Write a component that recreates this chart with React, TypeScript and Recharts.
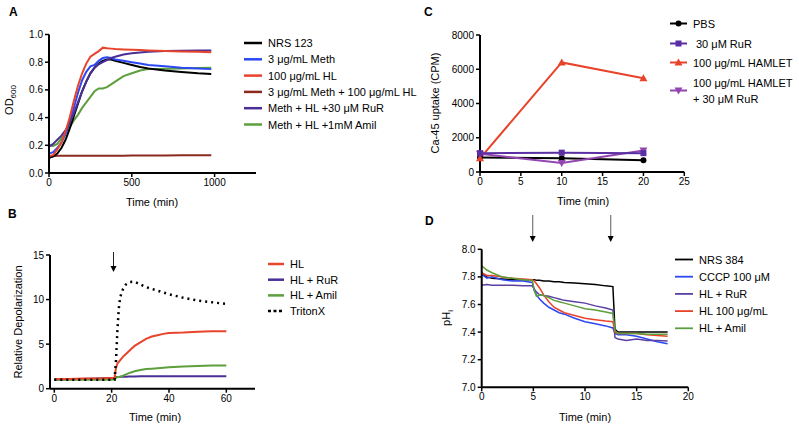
import React from 'react';
import { LineChart, Line, XAxis, YAxis } from 'recharts';

const FONT = '"Liberation Sans", Arial, Helvetica, sans-serif';

// ---------- Panel A : OD600 growth curves ----------
const aTime = [0, 25, 50, 75, 100, 125, 150, 175, 200, 225, 250, 275, 300, 325, 350, 375, 400, 450, 500, 550, 600, 700, 800, 900, 980];
const aNRS123 = [0.11, 0.12, 0.14, 0.18, 0.24, 0.32, 0.41, 0.5, 0.59, 0.66, 0.72, 0.76, 0.79, 0.81, 0.82, 0.82, 0.81, 0.795, 0.78, 0.765, 0.755, 0.74, 0.73, 0.72, 0.715];
const aMeth = [0.14, 0.15, 0.18, 0.22, 0.28, 0.37, 0.47, 0.58, 0.67, 0.73, 0.77, 0.78, 0.81, 0.83, 0.835, 0.83, 0.82, 0.81, 0.8, 0.79, 0.78, 0.77, 0.76, 0.755, 0.75];
const aHL = [0.12, 0.13, 0.17, 0.22, 0.3, 0.4, 0.52, 0.63, 0.72, 0.79, 0.84, 0.86, 0.88, 0.905, 0.9, 0.898, 0.895, 0.892, 0.89, 0.888, 0.885, 0.88, 0.877, 0.875, 0.872];
const aMethHL = [0.11, 0.12, 0.125, 0.125, 0.125, 0.125, 0.125, 0.125, 0.125, 0.125, 0.125, 0.125, 0.125, 0.125, 0.125, 0.125, 0.125, 0.125, 0.126, 0.126, 0.127, 0.127, 0.128, 0.128, 0.128];
const aRuR = [0.19, 0.21, 0.24, 0.27, 0.31, 0.36, 0.43, 0.51, 0.59, 0.66, 0.72, 0.76, 0.785, 0.8, 0.815, 0.83, 0.84, 0.855, 0.865, 0.87, 0.875, 0.88, 0.882, 0.884, 0.885];
const aAmil = [0.2, 0.195, 0.21, 0.25, 0.29, 0.33, 0.38, 0.42, 0.47, 0.51, 0.55, 0.59, 0.61, 0.61, 0.62, 0.64, 0.66, 0.7, 0.72, 0.74, 0.75, 0.752, 0.755, 0.758, 0.76];
const aXTicks = [0, 500, 1000];
const aYTicks = [0, 0.2, 0.4, 0.6, 0.8, 1.0];

// ---------- Panel B : relative depolarization ----------
const bTime = [0, 5, 10, 15, 20, 21, 21.5, 22, 22.5, 23, 24, 25, 26, 27, 28, 30, 32, 34, 36, 38, 40, 45, 50, 55, 60];
const bHL = [1.1, 1.1, 1.15, 1.15, 1.2, 1.2, 2.3, 2.8, 3.0, 3.2, 3.6, 3.9, 4.2, 4.5, 4.8, 5.2, 5.6, 5.85, 6.0, 6.15, 6.25, 6.3, 6.4, 6.45, 6.45];
const bRuR = [1.0, 1.05, 1.1, 1.15, 1.2, 1.2, 1.3, 1.3, 1.3, 1.35, 1.35, 1.35, 1.38, 1.38, 1.38, 1.4, 1.4, 1.4, 1.4, 1.4, 1.4, 1.4, 1.4, 1.4, 1.4];
const bAmil = [1.0, 1.0, 1.0, 1.0, 1.0, 1.05, 1.2, 1.3, 1.3, 1.35, 1.45, 1.6, 1.75, 1.85, 1.95, 2.1, 2.2, 2.25, 2.3, 2.35, 2.4, 2.5, 2.55, 2.6, 2.6];
const bTriton = [1.0, 1.0, 1.0, 1.0, 1.0, 1.0, 3.0, 6.5, 9.0, 10.3, 11.2, 11.7, 11.9, 12.0, 12.0, 11.7, 11.4, 11.2, 11.0, 10.8, 10.6, 10.2, 9.9, 9.7, 9.5];
const bXTicks = [0, 20, 40, 60];
const bYTicks = [0, 5, 10, 15];

// ---------- Panel C : Ca-45 uptake ----------
const cTime = [0, 10, 20];
const cPBS = [850, 800, 680];
const cRuR = [1100, 1130, 1100];
const cHAMLET = [800, 6400, 5480];
const cHAMLETRuR = [1070, 520, 1260];
const cXTicks = [0, 5, 10, 15, 20, 25];
const cYTicks = [0, 2000, 4000, 6000, 8000];

// ---------- Panel D : intracellular pH ----------
const dTime = [0, 0.5, 1, 2, 3, 4, 4.9, 5.1, 5.3, 5.6, 6, 6.5, 7, 7.5, 8, 9, 10, 11, 12, 12.7, 12.9, 13.2, 14, 15, 16, 17, 18];
const dNRS384 = [7.82, 7.8, 7.79, 7.785, 7.78, 7.78, 7.78, 7.78, 7.775, 7.775, 7.77, 7.77, 7.765, 7.765, 7.76, 7.755, 7.75, 7.745, 7.735, 7.73, 7.42, 7.4, 7.4, 7.4, 7.4, 7.4, 7.4];
const dCCCP = [7.82, 7.79, 7.8, 7.78, 7.77, 7.77, 7.76, 7.7, 7.67, 7.64, 7.61, 7.58, 7.56, 7.54, 7.53, 7.5, 7.475, 7.46, 7.445, 7.43, 7.39, 7.38, 7.38, 7.37, 7.35, 7.33, 7.315];
const dRuR = [7.74, 7.745, 7.74, 7.74, 7.74, 7.735, 7.735, 7.71, 7.69, 7.67, 7.665, 7.66, 7.65, 7.64, 7.63, 7.62, 7.61, 7.59, 7.575, 7.56, 7.36, 7.35, 7.34, 7.35, 7.34, 7.34, 7.335];
const dHL = [7.83, 7.81, 7.81, 7.8, 7.79, 7.785, 7.78, 7.77, 7.75, 7.72, 7.67, 7.62, 7.58, 7.56, 7.54, 7.52, 7.5, 7.49, 7.48, 7.475, 7.4, 7.39, 7.39, 7.39, 7.38, 7.375, 7.37];
const dAmil = [7.88, 7.85, 7.83, 7.8, 7.79, 7.78, 7.775, 7.7, 7.66, 7.67, 7.665, 7.65, 7.63, 7.62, 7.61, 7.59, 7.57, 7.56, 7.545, 7.535, 7.41, 7.39, 7.39, 7.39, 7.385, 7.385, 7.385];
const dXTicks = [0, 5, 10, 15, 20];
const dYTicks = [7.0, 7.2, 7.4, 7.6, 7.8, 8.0];

// ---------- colours ----------
const BLACK = '#000000';
const BLUE = '#2b48f2';
const RED = '#e8432b';
const DARKRED = '#8c2a1f';
const PURPLE = '#4b2f97';
const GREEN = '#5c9f3c';
const C_RUR = '#5a2fa3';
const C_HRUR = '#9246b0';
const D_RUR = '#5b40a3';

function rows(time: number[], series: Record<string, number[]>) {
  return time.map((t, i) => {
    const r: any = { t };
    for (const k of Object.keys(series)) r[k] = series[k][i];
    return r;
  });
}

const aData = rows(aTime, { nrs: aNRS123, meth: aMeth, hl: aHL, methhl: aMethHL, rur: aRuR, amil: aAmil });
const bData = rows(bTime, { hl: bHL, rur: bRuR, amil: bAmil, triton: bTriton });
const cData = rows(cTime, { pbs: cPBS, rur: cRuR, hamlet: cHAMLET, hrur: cHAMLETRuR });
const dData = rows(dTime, { nrs: dNRS384, cccp: dCCCP, rur: dRuR, hl: dHL, amil: dAmil });

const axisLine = { stroke: '#000', strokeWidth: 2 };
const tickLine = { stroke: '#000', strokeWidth: 1.5 };
const tickStyle = { fontSize: 10, fill: '#000', fontFamily: FONT };

function circleMark(cx: number, cy: number, color: string, key?: any) {
  return <circle key={key} cx={cx} cy={cy} r={3} fill={color} stroke="none" />;
}
function squareMark(cx: number, cy: number, color: string, key?: any) {
  return <rect key={key} x={cx - 3} y={cy - 3} width={6} height={6} fill={color} stroke="none" />;
}
function triUpMark(cx: number, cy: number, color: string, key?: any) {
  return <path key={key} d={`M${cx},${cy - 4}L${cx + 4},${cy + 3}L${cx - 4},${cy + 3}Z`} fill={color} stroke="none" />;
}
function triDownMark(cx: number, cy: number, color: string, key?: any) {
  return <path key={key} d={`M${cx},${cy + 4}L${cx + 4},${cy - 3}L${cx - 4},${cy - 3}Z`} fill={color} stroke="none" />;
}

const lineProps = { type: 'linear' as const, dot: false, isAnimationActive: false, activeDot: false };

function PanelA() {
  return (
    <div style={{ position: 'absolute', left: 0, top: 0 }}>
      <LineChart width={400} height={215} data={aData} margin={{ top: 34.5, right: 144, bottom: 22, left: 0 }}>
        <XAxis dataKey="t" type="number" domain={[0, 1250]} ticks={aXTicks} interval={0} height={20}
          axisLine={axisLine} tickLine={tickLine} tickSize={4} tick={tickStyle} />
        <YAxis type="number" domain={[0, 1]} ticks={aYTicks} interval={0} width={49}
          tickFormatter={(v: number) => v.toFixed(1)} axisLine={axisLine} tickLine={tickLine} tickSize={4} tick={tickStyle} />
        <Line {...lineProps} dataKey="methhl" stroke={DARKRED} strokeWidth={2} />
        <Line {...lineProps} dataKey="amil" stroke={GREEN} strokeWidth={2} />
        <Line {...lineProps} dataKey="nrs" stroke={BLACK} strokeWidth={2} />
        <Line {...lineProps} dataKey="meth" stroke={BLUE} strokeWidth={2} />
        <Line {...lineProps} dataKey="rur" stroke={PURPLE} strokeWidth={2} />
        <Line {...lineProps} dataKey="hl" stroke={RED} strokeWidth={2} />
      </LineChart>
    </div>
  );
}

function PanelB() {
  return (
    <div style={{ position: 'absolute', left: 0, top: 215 }}>
      <LineChart width={400} height={213} data={bData} margin={{ top: 40, right: 145, bottom: 19.3, left: 0 }}>
        <XAxis dataKey="t" type="number" domain={[-1.5, 70]} ticks={bXTicks} interval={0} height={20}
          axisLine={axisLine} tickLine={tickLine} tickSize={4} tick={tickStyle} />
        <YAxis type="number" domain={[0, 15]} ticks={bYTicks} interval={0} width={50}
          axisLine={axisLine} tickLine={tickLine} tickSize={4} tick={tickStyle} />
        <Line {...lineProps} dataKey="rur" stroke={PURPLE} strokeWidth={2} />
        <Line {...lineProps} dataKey="amil" stroke={GREEN} strokeWidth={2} />
        <Line {...lineProps} dataKey="hl" stroke={RED} strokeWidth={2} />
        <Line {...lineProps} dataKey="triton" stroke={BLACK} strokeWidth={2.5} strokeDasharray="2 4" />
      </LineChart>
    </div>
  );
}

function PanelC() {
  const mk = (fn: any, color: string) => (p: any) => fn(p.cx, p.cy, color, `m${p.index}`);
  return (
    <div style={{ position: 'absolute', left: 400, top: 0 }}>
      <LineChart width={399} height={215} data={cData} margin={{ top: 35, right: 114.7, bottom: 23, left: 0 }}>
        <XAxis dataKey="t" type="number" domain={[0, 25]} ticks={cXTicks} interval={0} height={20}
          axisLine={axisLine} tickLine={tickLine} tickSize={4} tick={tickStyle} />
        <YAxis type="number" domain={[0, 8000]} ticks={cYTicks} interval={0} width={80}
          axisLine={axisLine} tickLine={tickLine} tickSize={4} tick={tickStyle} />
        <Line {...lineProps} dataKey="pbs" stroke={BLACK} strokeWidth={2} dot={mk(circleMark, BLACK)} />
        <Line {...lineProps} dataKey="hamlet" stroke={RED} strokeWidth={2} dot={mk(triUpMark, RED)} />
        <Line {...lineProps} dataKey="hrur" stroke={C_HRUR} strokeWidth={2} dot={mk(triDownMark, C_HRUR)} />
        <Line {...lineProps} dataKey="rur" stroke={C_RUR} strokeWidth={2} dot={mk(squareMark, C_RUR)} />
      </LineChart>
    </div>
  );
}

function PanelD() {
  return (
    <div style={{ position: 'absolute', left: 400, top: 215 }}>
      <LineChart width={399} height={213} data={dData} margin={{ top: 34.3, right: 110.7, bottom: 20.7, left: 0 }}>
        <XAxis dataKey="t" type="number" domain={[0, 20]} ticks={dXTicks} interval={0} height={20}
          axisLine={axisLine} tickLine={tickLine} tickSize={4} tick={tickStyle} />
        <YAxis type="number" domain={[7, 8]} ticks={dYTicks} interval={0} width={81.7}
          tickFormatter={(v: number) => v.toFixed(1)} axisLine={axisLine} tickLine={tickLine} tickSize={4} tick={tickStyle} />
        <Line {...lineProps} dataKey="nrs" stroke={BLACK} strokeWidth={1.5} />
        <Line {...lineProps} dataKey="cccp" stroke={BLUE} strokeWidth={1.5} />
        <Line {...lineProps} dataKey="rur" stroke={D_RUR} strokeWidth={1.5} />
        <Line {...lineProps} dataKey="hl" stroke={RED} strokeWidth={1.5} />
        <Line {...lineProps} dataKey="amil" stroke={GREEN} strokeWidth={1.5} />
      </LineChart>
    </div>
  );
}

const legendA = [
  { label: 'NRS 123', color: BLACK },
  { label: '3 μg/mL Meth', color: BLUE },
  { label: '100 μg/mL HL', color: RED },
  { label: '3 μg/mL Meth + 100 μg/mL HL', color: DARKRED },
  { label: 'Meth + HL +30 μM RuR', color: PURPLE },
  { label: 'Meth + HL +1mM Amil', color: GREEN },
];
const legendB = [
  { label: 'HL', color: RED, dash: undefined as string | undefined },
  { label: 'HL + RuR', color: PURPLE, dash: undefined },
  { label: 'HL + Amil', color: GREEN, dash: undefined },
  { label: 'TritonX', color: BLACK, dash: '3 2.5' },
];
const legendD = [
  { label: 'NRS 384', color: BLACK },
  { label: 'CCCP 100 μM', color: BLUE },
  { label: 'HL + RuR', color: D_RUR },
  { label: 'HL 100 μg/mL', color: RED },
  { label: 'HL + Amil', color: GREEN },
];

function Overlay() {
  const t = { fontFamily: FONT, fill: '#000' } as any;
  return (
    <svg width={799} height={428} style={{ position: 'absolute', left: 0, top: 0, pointerEvents: 'none' }}>
      {/* panel letters */}
      <text x={9} y={16} {...t} fontSize={12} fontWeight="bold">A</text>
      <text x={8} y={218} {...t} fontSize={12} fontWeight="bold">B</text>
      <text x={424} y={16} {...t} fontSize={12} fontWeight="bold">C</text>
      <text x={425} y={225} {...t} fontSize={12} fontWeight="bold">D</text>

      {/* axis titles */}
      <text x={152} y={206} {...t} fontSize={11} textAnchor="middle">Time (min)</text>
      <text transform="translate(13,100) rotate(-90)" {...t} fontSize={11} textAnchor="middle">OD<tspan fontSize={8} dy={3}>600</tspan></text>
      <text x={155} y={421} {...t} fontSize={11} textAnchor="middle">Time (min)</text>
      <text transform="translate(22,322) rotate(-90)" {...t} fontSize={11} textAnchor="middle">Relative Depolarization</text>
      <text x={583} y={205} {...t} fontSize={11} textAnchor="middle">Time (min)</text>
      <text transform="translate(439,103) rotate(-90)" {...t} fontSize={11} textAnchor="middle">Ca-45 uptake (CPM)</text>
      <text x={585} y={421} {...t} fontSize={11} textAnchor="middle">Time (min)</text>
      <text transform="translate(450,318) rotate(-90)" {...t} fontSize={11} textAnchor="middle">pH<tspan fontSize={8} dy={3}>i</tspan></text>

      {/* arrows */}
      <line x1={113.5} y1={252} x2={113.5} y2={267} stroke="#222" strokeWidth={1} />
      <path d="M110.5,266 L116.5,266 L113.5,272 Z" fill="#000" />
      <line x1={532.7} y1={215} x2={532.7} y2={237} stroke="#777" strokeWidth={1.2} />
      <path d="M529.7,236 L535.7,236 L532.7,242 Z" fill="#000" />
      <line x1={610.7} y1={215} x2={610.7} y2={237} stroke="#777" strokeWidth={1.2} />
      <path d="M607.7,236 L613.7,236 L610.7,242 Z" fill="#000" />

      {/* legend A */}
      {legendA.map((e, i) => {
        const y = 43 + i * 16.3;
        return (
          <g key={`la${i}`}>
            <line x1={244} x2={262} y1={y} y2={y} stroke={e.color} strokeWidth={2.5} />
            <text x={268} y={y} {...t} fontSize={11} dominantBaseline="central">{e.label}</text>
          </g>
        );
      })}

      {/* legend B */}
      {legendB.map((e, i) => {
        const y = 264 + i * 15.7;
        return (
          <g key={`lb${i}`}>
            <line x1={268} x2={284} y1={y} y2={y} stroke={e.color} strokeWidth={2.5} strokeDasharray={e.dash} />
            <text x={290} y={y} {...t} fontSize={11} dominantBaseline="central">{e.label}</text>
          </g>
        );
      })}

      {/* legend C */}
      <line x1={670} x2={687} y1={23.5} y2={23.5} stroke={BLACK} strokeWidth={2} />
      {circleMark(678.5, 23.5, BLACK)}
      <text x={693} y={23.5} {...t} fontSize={11} dominantBaseline="central">PBS</text>
      <line x1={670} x2={687} y1={43.5} y2={43.5} stroke={C_RUR} strokeWidth={2} />
      {squareMark(678.5, 43.5, C_RUR)}
      <text x={696} y={43.5} {...t} fontSize={11} dominantBaseline="central">30 μM RuR</text>
      <line x1={670} x2={687} y1={62.5} y2={62.5} stroke={RED} strokeWidth={2} />
      {triUpMark(678.5, 62.5, RED)}
      <text x={693} y={62.5} {...t} fontSize={11} dominantBaseline="central">100 μg/mL HAMLET</text>
      <line x1={670} x2={687} y1={90.5} y2={90.5} stroke={C_HRUR} strokeWidth={2} />
      {triDownMark(678.5, 90.5, C_HRUR)}
      <text x={693} y={82.5} {...t} fontSize={11} dominantBaseline="central">100 μg/mL HAMLET</text>
      <text x={693} y={98.5} {...t} fontSize={11} dominantBaseline="central">+ 30 μM RuR</text>

      {/* legend D */}
      {legendD.map((e, i) => {
        const y = 259.5 + i * 17.2;
        return (
          <g key={`ld${i}`}>
            <line x1={675} x2={693} y1={y} y2={y} stroke={e.color} strokeWidth={1.8} />
            <text x={699} y={y} {...t} fontSize={11} dominantBaseline="central">{e.label}</text>
          </g>
        );
      })}
    </svg>
  );
}

export default function App() {
  return (
    <div style={{ position: 'absolute', left: 0, top: 0, width: 799, height: 428, background: '#fff', overflow: 'hidden' }}>
      <PanelA />
      <PanelB />
      <PanelC />
      <PanelD />
      <Overlay />
    </div>
  );
}
